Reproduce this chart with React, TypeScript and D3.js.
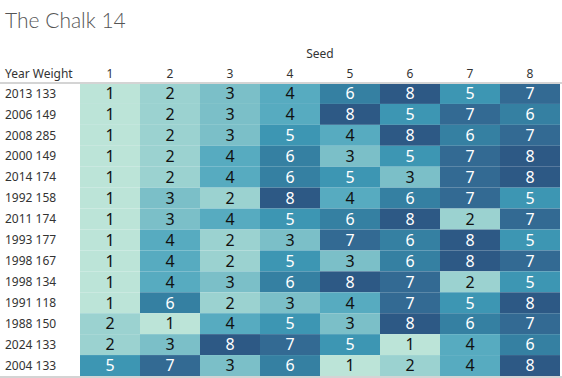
import React, { useEffect, useRef } from 'react';
import * as d3 from 'd3';

// rows of the highlight table: "year weight" label + seed finishing values
const rowLabels = [
  '2013 133', '2006 149', '2008 285', '2000 149', '2014 174', '1992 158', '2011 174',
  '1993 177', '1998 167', '1998 134', '1991 118', '1988 150', '2024 133', '2004 133',
];
const seeds = ['1', '2', '3', '4', '5', '6', '7', '8'];
const values = [
  [1, 2, 3, 4, 6, 8, 5, 7],
  [1, 2, 3, 4, 8, 5, 7, 6],
  [1, 2, 3, 5, 4, 8, 6, 7],
  [1, 2, 4, 6, 3, 5, 7, 8],
  [1, 2, 4, 6, 5, 3, 7, 8],
  [1, 3, 2, 8, 4, 6, 7, 5],
  [1, 3, 4, 5, 6, 8, 2, 7],
  [1, 4, 2, 3, 7, 6, 8, 5],
  [1, 4, 2, 5, 3, 6, 8, 7],
  [1, 4, 3, 6, 8, 7, 2, 5],
  [1, 6, 2, 3, 4, 7, 5, 8],
  [2, 1, 4, 5, 3, 8, 6, 7],
  [2, 3, 8, 7, 5, 1, 4, 6],
  [5, 7, 3, 6, 1, 2, 4, 8],
];
const palette = ['#bce4d8', '#9bd2d0', '#7bbfc8', '#57abc0', '#3d96b3', '#3580a2', '#336a93', '#2d5985'];

function App() {
  const ref = useRef<SVGSVGElement>(null);
  const width = 562;
  const height = 378;

  useEffect(() => {
    const svg = d3.select(ref.current);
    svg.selectAll('*').remove();

    const font = '"Noto Sans", "Open Sans", sans-serif';

    const x = d3.scaleBand().domain(seeds).range([80, 560]);
    const y = d3.scaleBand().domain(rowLabels).range([83, 376]);
    const color = d3.scaleOrdinal<number, string>().domain(d3.range(1, 9)).range(palette);

    svg.append('rect').attr('width', width).attr('height', height).attr('fill', '#fff');

    // title
    svg.append('text')
      .attr('x', 5).attr('y', 28)
      .attr('font-family', 'Lato, "Noto Sans", sans-serif').attr('font-size', 21).attr('font-weight', 300)
      .attr('fill', '#555')
      .text('The Chalk 14');

    svg.append('text')
      .attr('x', 320).attr('y', 58)
      .attr('text-anchor', 'middle')
      .attr('font-family', font).attr('font-size', 12).attr('fill', '#333')
      .text('Seed');

    svg.append('text')
      .attr('x', 5).attr('y', 78)
      .attr('font-family', font).attr('font-size', 12).attr('fill', '#333')
      .text('Year Weight');

    svg.selectAll('.colhead')
      .data(seeds)
      .enter()
      .append('text')
      .attr('x', (d) => x(d)! + x.bandwidth() / 2)
      .attr('y', 78)
      .attr('text-anchor', 'middle')
      .attr('font-family', font).attr('font-size', 12).attr('fill', '#333')
      .text((d) => d);

    const row = svg.selectAll('.row')
      .data(rowLabels)
      .enter()
      .append('g')
      .attr('transform', (d) => `translate(0, ${y(d)})`);

    row.append('text')
      .attr('x', 5)
      .attr('y', y.bandwidth() / 2)
      .attr('dy', '0.35em')
      .attr('font-family', font).attr('font-size', 12).attr('fill', '#333')
      .text((d) => d);

    const cell = row.selectAll('.cell')
      .data((_, i) => values[i].map((v, j) => ({ v, seed: seeds[j] })))
      .enter();

    cell.append('rect')
      .attr('x', (d) => x(d.seed)!)
      .attr('y', 0)
      .attr('width', x.bandwidth())
      .attr('height', y.bandwidth())
      .attr('fill', (d) => color(d.v));

    cell.append('text')
      .attr('x', (d) => x(d.seed)! + x.bandwidth() / 2)
      .attr('y', y.bandwidth() / 2)
      .attr('dy', '0.36em')
      .attr('text-anchor', 'middle')
      .attr('font-family', font).attr('font-size', 16)
      .attr('fill', (d) => (d.v >= 5 ? '#fff' : '#111'))
      .text((d) => d.v);

    // header divider and bottom border
    svg.append('line')
      .attr('x1', 0).attr('x2', width).attr('y1', 83).attr('y2', 83)
      .attr('stroke', '#d4d4d4').attr('stroke-width', 2);
    svg.append('line')
      .attr('x1', 0).attr('x2', width).attr('y1', 377).attr('y2', 377)
      .attr('stroke', '#d4d4d4').attr('stroke-width', 2);
  }, []);

  return (
    <svg
      ref={ref}
      width={width}
      height={height}
      style={{ position: 'absolute', left: 0, top: 0 }}
    />
  );
}

export default App;
